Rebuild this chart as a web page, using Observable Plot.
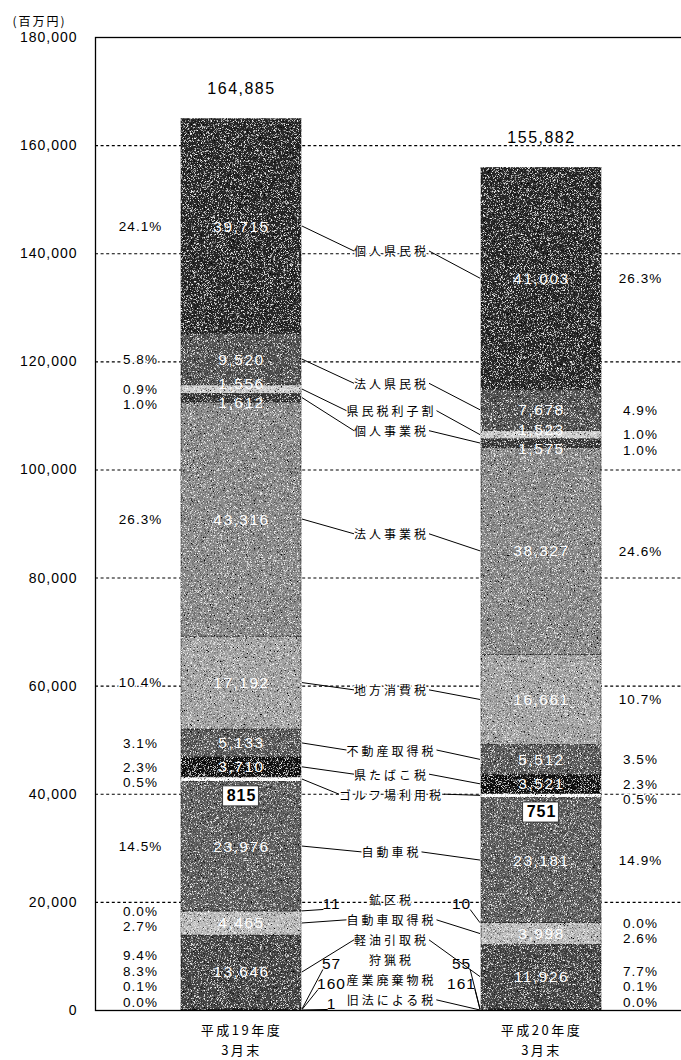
<!DOCTYPE html>
<html>
<head>
<meta charset="utf-8">
<script src="https://cdn.jsdelivr.net/npm/d3@7"></script>
<script src="https://cdn.jsdelivr.net/npm/@observablehq/plot@0.6"></script>
<style>
  html, body { margin: 0; padding: 0; background: #fff; }
  #chart svg { display: block; }
</style>
</head>
<body>
<div id="chart"></div>
<script>
// ---------------- data (bottom of stack → top) ----------------
const categories = ["平成19年度\n3月末", "平成20年度\n3月末"];
const taxNames = ["旧法による税", "産業廃棄物税", "狩猟税", "軽油引取税", "自動車取得税", "鉱区税",
  "自動車税", "ゴルフ場利用税", "県たばこ税", "不動産取得税", "地方消費税", "法人事業税",
  "個人事業税", "県民税利子割", "法人県民税", "個人県民税"];
const values19 = [1, 160, 57, 13646, 4465, 11, 23976, 815, 3710, 5133, 17192, 43316, 1612, 1556, 9520, 39715];
const values20 = [0, 161, 55, 11926, 3998, 10, 23181, 751, 3521, 5512, 16661, 38327, 1575, 1523, 7678, 41003];
const shares19 = ["0.0%", "0.1%", "8.3%", "9.4%", "2.7%", "0.0%", "14.5%", "0.5%", "2.3%", "3.1%", "10.4%", "26.3%", "1.0%", "0.9%", "5.8%", "24.1%"];
const shares20 = ["0.0%", "0.1%", null, "7.7%", "2.6%", "0.0%", "14.9%", "0.5%", "2.3%", "3.5%", "10.7%", "24.6%", "1.0%", "1.0%", "4.9%", "26.3%"];
const totals = [164885, 155882];
const yTicks = [0, 20000, 40000, 60000, 80000, 100000, 120000, 140000, 160000, 180000];
const unitLabel = "(百万円)";

// ---------------- styles ----------------
const shades = ["#333333", "#333333", "#333333", "#474747", "#bdbdbd", "#222222",
  "#5e5e5e", "#ffffff", "#161616", "#5c5c5c", "#a4a4a4", "#8a8a8a",
  "#3a3a3a", "#cfcfcf", "#525252", "#2a2a2a"];
const W = 681, H = 1060, MT = 37, MB = 50, ML = 95;
const FONT = '"Noto Sans CJK JP", "Noto Sans", sans-serif';
const NUMFONT = '"Liberation Sans", "DejaVu Sans", sans-serif';
const fmt = d3.format(",");
const valueSets = [values19, values20];
const shareSets = [shares19, shares20];
const golf = "ゴルフ場利用税";

// ---------------- derived tables ----------------
const rows = [];
valueSets.forEach((vals, j) => vals.forEach((v, i) => rows.push({cat: categories[j], tax: taxNames[i], value: v})));

function stackInfo(vals) {
  let acc = 0;
  return vals.map(v => { const lo = acc; acc += v; return {lo, hi: acc, mid: lo + v / 2}; });
}
const st = valueSets.map(stackInfo);
const yPx = d3.scaleLinear([0, yTicks[yTicks.length - 1]], [H - MB, MT]);

// push-down then pull-up label separation (pixel space)
function spread(items, gap, maxY) {
  const s = items.slice().sort((a, b) => a.target - b.target);
  s.forEach((d, i) => d.pos = i ? Math.max(d.target, s[i - 1].pos + gap) : d.target);
  for (let i = s.length - 1; i >= 0; i--) s[i].pos = Math.min(s[i].pos, i === s.length - 1 ? maxY : s[i + 1].pos - gap);
  return items;
}
// cluster-centred label separation (pixel space)
function spreadCentered(items, gap) {
  const s = items.slice().sort((a, b) => a.target - b.target);
  let cl = s.map(d => ({items: [d], c: d.target}));
  let merged = true;
  while (merged) {
    merged = false;
    for (let k = 0; k < cl.length - 1; k++) {
      const a = cl[k], b = cl[k + 1];
      const aBot = a.c + (a.items.length - 1) * gap / 2, bTop = b.c - (b.items.length - 1) * gap / 2;
      if (bTop - aBot < gap) {
        const its = a.items.concat(b.items);
        cl.splice(k, 2, {items: its, c: d3.mean(its, d => d.target)});
        merged = true; break;
      }
    }
  }
  cl.forEach(c => c.items.forEach((d, k) => d.pos = c.c + (k - (c.items.length - 1) / 2) * gap));
  return items;
}

// labels inside bars
const inside = [], golfLabels = [];
valueSets.forEach((vals, j) => {
  const items = [];
  vals.forEach((v, i) => {
    if (taxNames[i] === golf) golfLabels.push({cat: categories[j], y: st[j][i].lo, text: fmt(v)});
    else if (v >= 1000) items.push({text: fmt(v), target: yPx(st[j][i].mid)});
  });
  spreadCentered(items, 19);
  items.forEach(d => inside.push({cat: categories[j], y: yPx.invert(d.pos), text: d.text}));
});

// share labels beside bars
const shareLabels = shareSets.map((shares, j) => {
  const items = shares.map((t, i) => t ? {text: t, target: yPx(st[j][i].mid)} : null).filter(Boolean);
  spread(items, 15.5, yPx(0) - 8);
  return items.map(d => ({cat: categories[j], y: yPx.invert(d.pos), text: d.text}));
});

// name labels between bars
const nameItems = taxNames.map((n, i) => ({i, text: n, target: (yPx(st[0][i].mid) + yPx(st[1][i].mid)) / 2}));
spread(nameItems, 20, yPx(0) - 9);
const nameLabels = nameItems.map(d => ({cat: categories[0], y: yPx.invert(d.pos), text: d.text, i: d.i}));

// small values shown outside the bars
const tinyIdx = taxNames.map((n, i) => i).filter(i => Math.max(values19[i], values20[i]) < 500);
const tinyLeft = tinyIdx.filter(i => values19[i] > 0).map(i => ({cat: categories[0], y: nameLabels[i].y, text: String(values19[i]), i}));
const tinyRight = tinyIdx.filter(i => values20[i] > 0).map(i => ({cat: categories[1], y: nameLabels[i].y, text: String(values20[i]), i}));
const totalLabels = totals.map((t, j) => ({cat: categories[j], y: t, text: fmt(t)}));

// ---------------- plot ----------------
const plot = Plot.plot({
  width: W, height: H,
  marginTop: MT, marginBottom: MB, marginLeft: ML, marginRight: -2,
  style: {fontFamily: FONT, background: "#fff", color: "#000", overflow: "visible"},
  x: {domain: categories, range: [ML, 687], paddingInner: 0.6, paddingOuter: 0.285, align: 0.5, axis: null, label: null},
  y: {domain: [0, yTicks[yTicks.length - 1]], range: [H - MB, MT], axis: null, label: null},
  color: {domain: taxNames, range: shades},
  marks: [
    Plot.gridY(yTicks.slice(1, -1), {stroke: "#000", strokeOpacity: 1, strokeWidth: 1.1, strokeDasharray: "3,2.6"}),
    Plot.barY(rows, {x: "cat", y: "value", fill: "tax", stroke: "#1a1a1a", strokeWidth: 0.5, ariaDescription: "bars"}),
    Plot.frame({stroke: "#000", strokeWidth: 1.3}),
    Plot.axisY({ticks: yTicks, tickFormat: fmt, tickSize: 0, tickPadding: 18, fontSize: 14, fontFamily: NUMFONT, label: null, ariaDescription: "yaxis"}),
    Plot.axisX({tickSize: 0, tickPadding: 11, fontSize: 13, lineHeight: 1.5, label: null, ariaDescription: "xaxis"}),
    Plot.text([unitLabel], {frameAnchor: "top-left", text: d => d, dx: -83, dy: -20, textAnchor: "start", fontSize: 12, ariaDescription: "unit"}),
    Plot.text(totalLabels, {x: "cat", y: "y", text: "text", dy: -30, fontSize: 16, fontFamily: NUMFONT, ariaDescription: "totals"}),
    Plot.text(inside, {x: "cat", y: "y", text: "text", fill: "#fff", fontSize: 15.5, fontFamily: NUMFONT, ariaDescription: "inside"}),
    Plot.text(golfLabels, {x: "cat", y: "y", text: "text", dy: 14, fontSize: 16, fontWeight: "bold", fontFamily: NUMFONT, fill: "#000", ariaDescription: "golf"}),
    Plot.text(shareLabels[0], {x: "cat", y: "y", text: "text", dx: -101, fontSize: 13.5, fontFamily: NUMFONT, stroke: "#fff", strokeWidth: 3, fill: "#000", ariaDescription: "shares"}),
    Plot.text(shareLabels[1], {x: "cat", y: "y", text: "text", dx: 99, fontSize: 13.5, fontFamily: NUMFONT, stroke: "#fff", strokeWidth: 3, fill: "#000", ariaDescription: "shares"}),
    Plot.text(nameLabels, {x: "cat", y: "y", text: "text", dx: 150, fontSize: 12, stroke: "#fff", strokeWidth: 3, fill: "#000", ariaDescription: "names"}),
    Plot.text(tinyLeft, {x: "cat", y: "y", text: "text", dx: 90, dy: 3, fontSize: 15.5, fontFamily: NUMFONT, ariaDescription: "tinyL"}),
    Plot.text(tinyRight, {x: "cat", y: "y", text: "text", dx: -80, dy: 3, fontSize: 15.5, fontFamily: NUMFONT, ariaDescription: "tinyR"})
  ]
});
document.getElementById("chart").appendChild(plot);

// ---------------- post-render styling & leader lines ----------------
const svg = d3.select(plot);
const sel = k => svg.selectAll(`g[aria-description="${k}"]`);
sel("yaxis").attr("letter-spacing", 1);
sel("xaxis").attr("letter-spacing", 2.5);
sel("unit").attr("letter-spacing", 2);
sel("totals").attr("letter-spacing", 1.5);
sel("inside").attr("letter-spacing", 1.5);
sel("golf").attr("letter-spacing", 1);
sel("shares").attr("letter-spacing", 1);
sel("names").attr("letter-spacing", 3);
sel("tinyL").attr("letter-spacing", 1);
sel("tinyR").attr("letter-spacing", 1);

// halftone-like grain on the bars
const defs = svg.insert("defs", ":first-child");
const f = defs.append("filter").attr("id", "grain").attr("filterUnits", "userSpaceOnUse")
  .attr("x", 0).attr("y", 0).attr("width", W).attr("height", H);
f.append("feTurbulence").attr("type", "fractalNoise").attr("baseFrequency", 1.7).attr("numOctaves", 2).attr("seed", 4).attr("result", "noise");
f.append("feColorMatrix").attr("in", "noise").attr("type", "matrix").attr("values", "0 0 0 0 1  0 0 0 0 1  0 0 0 0 1  4 0 0 0 -2.2").attr("result", "wn");
f.append("feColorMatrix").attr("in", "noise").attr("type", "matrix").attr("values", "0 0 0 0 0  0 0 0 0 0  0 0 0 0 0  -4 0 0 0 1.8").attr("result", "bn");
f.append("feComposite").attr("in", "wn").attr("in2", "SourceGraphic").attr("operator", "in").attr("result", "w2");
f.append("feComposite").attr("in", "bn").attr("in2", "SourceGraphic").attr("operator", "in").attr("result", "b2");
const mg = f.append("feMerge");
mg.append("feMergeNode").attr("in", "SourceGraphic");
mg.append("feMergeNode").attr("in", "w2");
mg.append("feMergeNode").attr("in", "b2");
sel("bars").attr("filter", "url(#grain)");

const svgRect = plot.getBoundingClientRect();
const box = node => { const r = node.getBoundingClientRect(); return {l: r.left - svgRect.left, r: r.right - svgRect.left, t: r.top - svgRect.top, b: r.bottom - svgRect.top}; };

// white boxes behind golf-tax labels
sel("golf").each(function () {
  const g = this;
  d3.select(g).selectAll("text").each(function () {
    const b = box(this);
    const rect = document.createElementNS("http://www.w3.org/2000/svg", "rect");
    rect.setAttribute("x", b.l - 4); rect.setAttribute("y", b.t - 1);
    rect.setAttribute("width", b.r - b.l + 6); rect.setAttribute("height", b.b - b.t + 3);
    rect.setAttribute("fill", "#fff"); rect.setAttribute("stroke", "#222"); rect.setAttribute("stroke-width", 0.8);
    g.parentNode.insertBefore(rect, g);
  });
});

// leader lines
const sx = plot.scale("x"), sy = plot.scale("y");
const bw = sx.bandwidth;
const bar1R = sx.apply(categories[0]) + bw, bar2L = sx.apply(categories[1]);
const nameNodes = sel("names").selectAll("text").nodes();
const tinyLNodes = sel("tinyL").selectAll("text").nodes();
const tinyRNodes = sel("tinyR").selectAll("text").nodes();
const segs = [];
taxNames.forEach((n, i) => {
  const nb = box(nameNodes[i]);
  const ny = (nb.t + nb.b) / 2;
  const yl = sy.apply(st[0][i].mid), yr = sy.apply(st[1][i].mid);
  const tl = tinyLeft.findIndex(d => d.i === i), tr = tinyRight.findIndex(d => d.i === i);
  const isTiny = tinyIdx.includes(i);
  if (isTiny && tl >= 0) {
    const b = box(tinyLNodes[tl]);
    segs.push([bar1R + 1, yl, b.l + 1, b.b - 3]);
  } else if (!isTiny || values19[i] > 0) {
    segs.push([bar1R + 1, yl, nb.l, ny]);
  }
  if (isTiny && tr >= 0) {
    const b = box(tinyRNodes[tr]);
    segs.push([b.r - 1, b.b - 3, bar2L - 1, yr]);
  } else {
    segs.push([nb.r, ny, bar2L - 1, yr]);
  }
});
svg.append("g").attr("aria-description", "leaders")
  .selectAll("line").data(segs).join("line")
  .attr("x1", d => d[0]).attr("y1", d => d[1]).attr("x2", d => d[2]).attr("y2", d => d[3])
  .attr("stroke", "#000").attr("stroke-width", 1);
</script>
</body>
</html>
